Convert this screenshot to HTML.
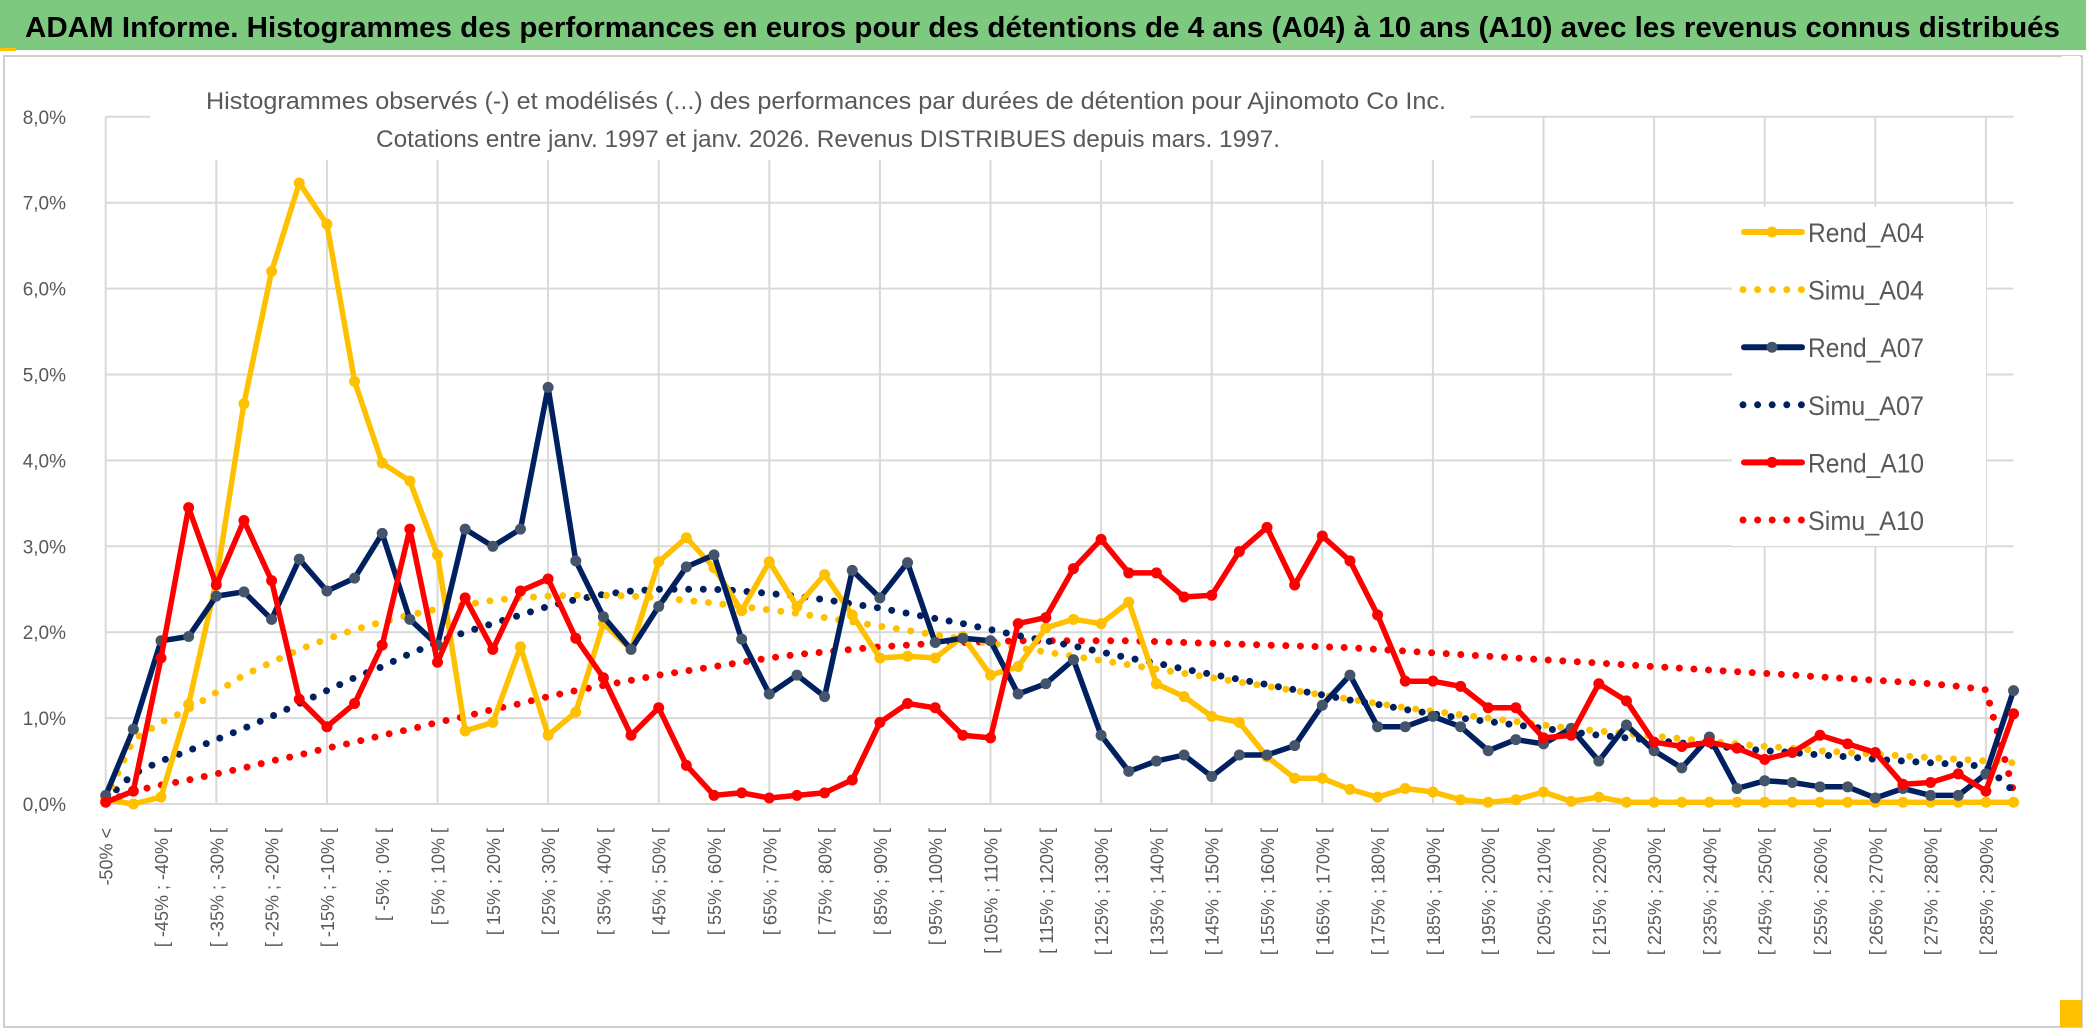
<!DOCTYPE html>
<html><head><meta charset="utf-8">
<style>
html,body{margin:0;padding:0;background:#fff;}
svg{display:block;font-family:"Liberation Sans",sans-serif;}
</style></head>
<body>
<svg id="chart" width="2086" height="1031" viewBox="0 0 2086 1031" xmlns="http://www.w3.org/2000/svg">
  <rect x="0" y="0" width="2086" height="1031" fill="#ffffff"/>
  <rect x="0" y="0" width="2086" height="50" fill="#7dc97f"/>
  <rect x="0" y="48" width="16" height="3" fill="#ffc000"/>
  <text x="25" y="37" font-size="29" font-weight="bold" fill="#000" textLength="2035" lengthAdjust="spacingAndGlyphs">ADAM Informe. Histogrammes des performances en euros pour des détentions de 4 ans (A04) à 10 ans (A10) avec les revenus connus distribués</text>
  <rect x="4" y="56" width="2078" height="971" fill="none" stroke="#bfbfbf" stroke-width="1.5"/>
  <rect x="2060" y="1000" width="22" height="27" fill="#ffc000"/>
  <rect x="2062" y="56" width="18" height="944" fill="#fff"/>
  <g id="grid"></g>
  <g id="ylabels"></g>
  <g id="xlabels"></g>
  <rect x="150" y="60" width="1320" height="100" fill="#fff"/>
  <text x="826" y="109" font-size="24" fill="#595959" text-anchor="middle" textLength="1240" lengthAdjust="spacingAndGlyphs">Histogrammes observés (-) et modélisés (...) des performances par durées de détention pour Ajinomoto Co Inc.</text>
  <text x="828" y="147" font-size="24" fill="#595959" text-anchor="middle" textLength="904" lengthAdjust="spacingAndGlyphs">Cotations entre janv. 1997 et janv. 2026. Revenus DISTRIBUES depuis mars. 1997.</text>
  <g id="series"></g>
  <g id="legend">
    <rect x="1732" y="207" width="254" height="339" fill="#fff"/>
  </g>
</svg>
<script>
const categories = (function(){const c=["-50% <"];for(let i=1;i<70;i++){const lo=-50+5*(i-1);c.push("[ "+lo+"% ; "+(lo+5)+"% [");}return c;})();
const yTicks = [0,1,2,3,4,5,6,7,8];
const yTickLabels = ["0,0%","1,0%","2,0%","3,0%","4,0%","5,0%","6,0%","7,0%","8,0%"];
const seriesNames = ["Rend_A04","Simu_A04","Rend_A07","Simu_A07","Rend_A10","Simu_A10"];
const rendA04 = [0.05,0.0,0.08,1.16,2.6,4.66,6.2,7.23,6.75,4.92,3.97,3.76,2.9,0.85,0.95,1.83,0.8,1.07,2.1,1.8,2.82,3.1,2.75,2.25,2.82,2.3,2.67,2.2,1.7,1.72,1.7,1.95,1.5,1.6,2.05,2.15,2.1,2.35,1.4,1.25,1.02,0.95,0.55,0.3,0.3,0.17,0.08,0.18,0.14,0.05,0.02,0.05,0.14,0.03,0.08,0.02,0.02,0.02,0.02,0.02,0.02,0.02,0.02,0.02,0.02,0.02,0.02,0.02,0.02,0.02];
const simuA04 = [0.05,0.75,0.95,1.1,1.3,1.5,1.65,1.8,1.92,2.03,2.12,2.2,2.27,2.32,2.37,2.4,2.42,2.43,2.43,2.42,2.4,2.37,2.34,2.3,2.26,2.22,2.17,2.12,2.07,2.02,1.97,1.92,1.87,1.82,1.77,1.72,1.67,1.62,1.57,1.52,1.47,1.42,1.37,1.32,1.27,1.22,1.17,1.12,1.08,1.04,1.0,0.96,0.92,0.88,0.85,0.82,0.79,0.76,0.73,0.7,0.67,0.65,0.62,0.6,0.58,0.56,0.54,0.52,0.5,0.48];
const rendA07 = [0.1,0.87,1.9,1.95,2.42,2.47,2.15,2.85,2.48,2.63,3.15,2.15,1.85,3.2,3.0,3.2,4.85,2.83,2.18,1.8,2.3,2.76,2.9,1.92,1.28,1.5,1.25,2.72,2.4,2.81,1.88,1.93,1.9,1.28,1.4,1.68,0.8,0.38,0.5,0.57,0.32,0.57,0.57,0.68,1.15,1.5,0.9,0.9,1.02,0.9,0.62,0.75,0.7,0.88,0.5,0.92,0.62,0.42,0.78,0.18,0.27,0.25,0.2,0.2,0.07,0.18,0.1,0.1,0.35,1.32];
const simuA07 = [0.05,0.35,0.5,0.62,0.75,0.88,1.02,1.17,1.32,1.47,1.6,1.75,1.88,2.0,2.1,2.2,2.3,2.38,2.44,2.48,2.5,2.5,2.5,2.48,2.45,2.42,2.38,2.33,2.28,2.22,2.16,2.1,2.03,1.96,1.9,1.84,1.77,1.7,1.64,1.57,1.51,1.45,1.39,1.33,1.27,1.21,1.16,1.1,1.05,1.0,0.96,0.92,0.88,0.84,0.8,0.77,0.74,0.71,0.68,0.65,0.62,0.6,0.57,0.55,0.52,0.5,0.48,0.46,0.44,0.15];
const rendA10 = [0.02,0.15,1.7,3.45,2.55,3.3,2.6,1.22,0.9,1.17,1.85,3.2,1.65,2.4,1.8,2.48,2.62,1.93,1.47,0.8,1.12,0.45,0.1,0.13,0.07,0.1,0.13,0.28,0.95,1.17,1.12,0.8,0.77,2.1,2.17,2.74,3.08,2.69,2.69,2.41,2.43,2.94,3.22,2.55,3.12,2.83,2.2,1.43,1.43,1.37,1.12,1.12,0.77,0.8,1.4,1.2,0.72,0.67,0.72,0.65,0.52,0.6,0.8,0.7,0.6,0.23,0.25,0.35,0.15,1.05];
const simuA10 = [0.02,0.15,0.22,0.28,0.35,0.42,0.5,0.57,0.65,0.72,0.8,0.87,0.95,1.02,1.1,1.17,1.25,1.32,1.38,1.44,1.5,1.55,1.6,1.65,1.7,1.74,1.77,1.8,1.83,1.85,1.87,1.88,1.89,1.9,1.9,1.9,1.9,1.9,1.89,1.88,1.87,1.86,1.85,1.84,1.83,1.82,1.8,1.78,1.76,1.74,1.72,1.7,1.68,1.66,1.64,1.62,1.6,1.58,1.56,1.54,1.52,1.5,1.48,1.46,1.44,1.42,1.4,1.37,1.33,0.15];

const NS="http://www.w3.org/2000/svg";
const X0=105.7, DX=27.65, Y0=804, PY=85.9;
function xPos(i){return X0+i*DX;}
function yPos(v){return Y0-v*PY;}
function mk(tag,attrs,parent){const e=document.createElementNS(NS,tag);for(const k in attrs)e.setAttribute(k,attrs[k]);parent.appendChild(e);return e;}
const xEnd=xPos(categories.length-1);

const grid=document.getElementById('grid');
yTicks.forEach((t)=>{
  const l=mk('line',{x1:X0,x2:xEnd,y1:yPos(t),y2:yPos(t),stroke:'#d9d9d9','stroke-width':2},grid);
  
  
});
for(let i=0;i<categories.length;i+=4){
  const l=mk('line',{x1:xPos(i),x2:xPos(i),y1:yPos(8),y2:Y0,stroke:'#d9d9d9','stroke-width':2},grid);
  
  
}
const yl=document.getElementById('ylabels');
yTicks.forEach((t,k)=>{
  const e=mk('text',{x:66,y:yPos(t)+7,'font-size':19,fill:'#595959','text-anchor':'end'},yl);
  e.textContent=yTickLabels[k];
  
  
});
const xl=document.getElementById('xlabels');
categories.forEach((c,i)=>{
  if(i%2!==0)return;
  const x=xPos(i)+7, y=828;
  const e=mk('text',{x:x,y:y,'font-size':18,fill:'#595959','text-anchor':'end',transform:'rotate(-90 '+x+' '+y+')'},xl);
  e.textContent=c;
  
  
});

const sg=document.getElementById('series');
function pts(arr){return arr.map((v,i)=>xPos(i).toFixed(1)+','+yPos(v).toFixed(1)).join(' ');}
function dotted(arr,color,name){
  const p=mk('polyline',{points:pts(arr),fill:'none',stroke:color,'stroke-width':7,'stroke-linecap':'round','stroke-dasharray':'0 14.6','stroke-linejoin':'round'},sg);
  
  
}
function solid(arr,color,mcolor,name){
  const p=mk('polyline',{points:pts(arr),fill:'none',stroke:color,'stroke-width':5.5,'stroke-linejoin':'round'},sg);
  
  
  arr.forEach((v,i)=>{
    const c=mk('circle',{cx:xPos(i),cy:yPos(v),r:5.5,fill:mcolor},sg);
    
    
  });
}
dotted(simuA10,'#ff0000','simu-a10-line');
dotted(simuA07,'#002060','simu-a07-line');
dotted(simuA04,'#ffc000','simu-a04-line');
solid(rendA04,'#ffc000','#ffc000','rend-a04-line');
solid(rendA07,'#002060','#44546a','rend-a07-line');
solid(rendA10,'#ff0000','#ff0000','rend-a10-line');

const lg=document.getElementById('legend');
const legendStyles=[['#ffc000','#ffc000',false],['#ffc000',null,true],['#002060','#44546a',false],['#002060',null,true],['#ff0000','#ff0000',false],['#ff0000',null,true]];
seriesNames.forEach((n,k)=>{
  const y=232+k*57.6;
  const [col,mcol,dot]=legendStyles[k];
  const g=mk('g',{},lg);
  
  
  if(dot){
    mk('line',{x1:1743,x2:1802,y1:y,y2:y,stroke:col,'stroke-width':7,'stroke-linecap':'round','stroke-dasharray':'0 14.6'},g);
  }else{
    mk('line',{x1:1744,x2:1802,y1:y,y2:y,stroke:col,'stroke-width':6,'stroke-linecap':'round'},g);
    mk('circle',{cx:1772,cy:y,r:5.5,fill:mcol},g);
  }
  const t=mk('text',{x:1808,y:y+10,'font-size':27,fill:'#595959',textLength:116,lengthAdjust:'spacingAndGlyphs'},g);
  t.textContent=n;
});
</script>
</body></html>
